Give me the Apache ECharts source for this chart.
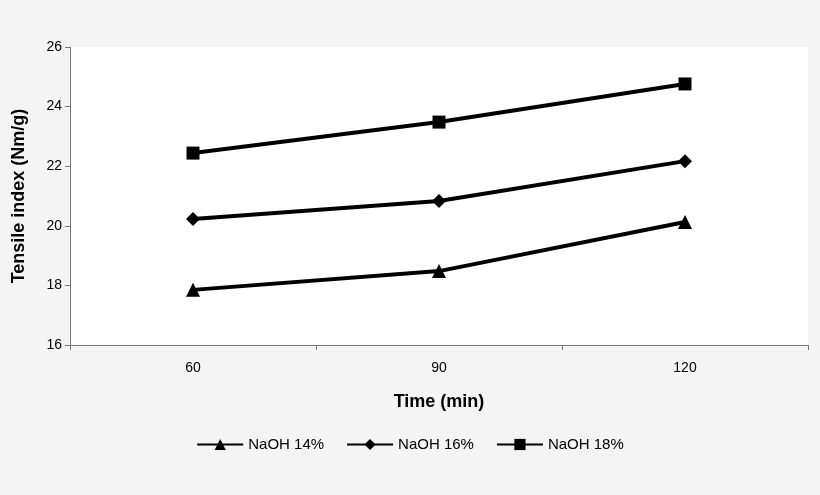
<!DOCTYPE html>
<html>
<head>
<meta charset="utf-8">
<script src="https://cdn.jsdelivr.net/npm/echarts@6/dist/echarts.min.js"></script>
<style>html,body{margin:0;background:#f4f4f4}#content{width:820px;height:495px}</style>
</head>
<body>
<div id="content"></div>
<script>
// time categories and tensile index values
var times = ['60', '90', '120'];
var naoh14 = [17.85, 18.48, 20.13];
var naoh16 = [20.23, 20.83, 22.17];
var naoh18 = [22.44, 23.48, 24.76];

var myChart = echarts.init(document.getElementById('content'));

function line(name, data, symbol, size) {
    return {
        name: name,
        type: 'line',
        data: data,
        symbol: symbol,
        symbolSize: size,
        itemStyle: { color: '#000' },
        lineStyle: { color: '#000', width: 4 }
    };
}

myChart.setOption({
    animation: false,
    backgroundColor: '#f4f4f4',
    textStyle: { fontFamily: 'Liberation Sans, Arial' },
    grid: { left: 70, right: 12, top: 47, bottom: 150, show: true, backgroundColor: '#fff', borderWidth: 0 },
    xAxis: {
        type: 'category',
        data: times,
        name: 'Time (min)',
        nameLocation: 'middle',
        nameGap: 48,
        nameTextStyle: { fontSize: 18, fontWeight: 'bold', color: '#000' },
        axisLine: { lineStyle: { color: '#777' } },
        axisTick: { show: true, lineStyle: { color: '#777' } },
        axisLabel: { color: '#000', fontSize: 14, margin: 16 }
    },
    yAxis: {
        type: 'value',
        min: 16, max: 26, interval: 2,
        name: 'Tensile index (Nm/g)',
        nameLocation: 'middle',
        nameGap: 42,
        nameTextStyle: { fontSize: 18, fontWeight: 'bold', color: '#000' },
        axisLine: { show: true, lineStyle: { color: '#777' } },
        axisTick: { show: true, lineStyle: { color: '#777' } },
        axisLabel: { color: '#000', fontSize: 14 },
        splitLine: { show: false }
    },
    legend: {
        bottom: 38,
        itemWidth: 46,
        itemHeight: 14,
        itemGap: 22,
        textStyle: { color: '#000', fontSize: 15 },
        data: ['NaOH 14%', 'NaOH 16%', 'NaOH 18%']
    },
    series: [
        line('NaOH 14%', naoh14, 'triangle', 14),
        line('NaOH 16%', naoh16, 'diamond', 14),
        line('NaOH 18%', naoh18, 'rect', 13)
    ]
});
</script>
</body>
</html>
